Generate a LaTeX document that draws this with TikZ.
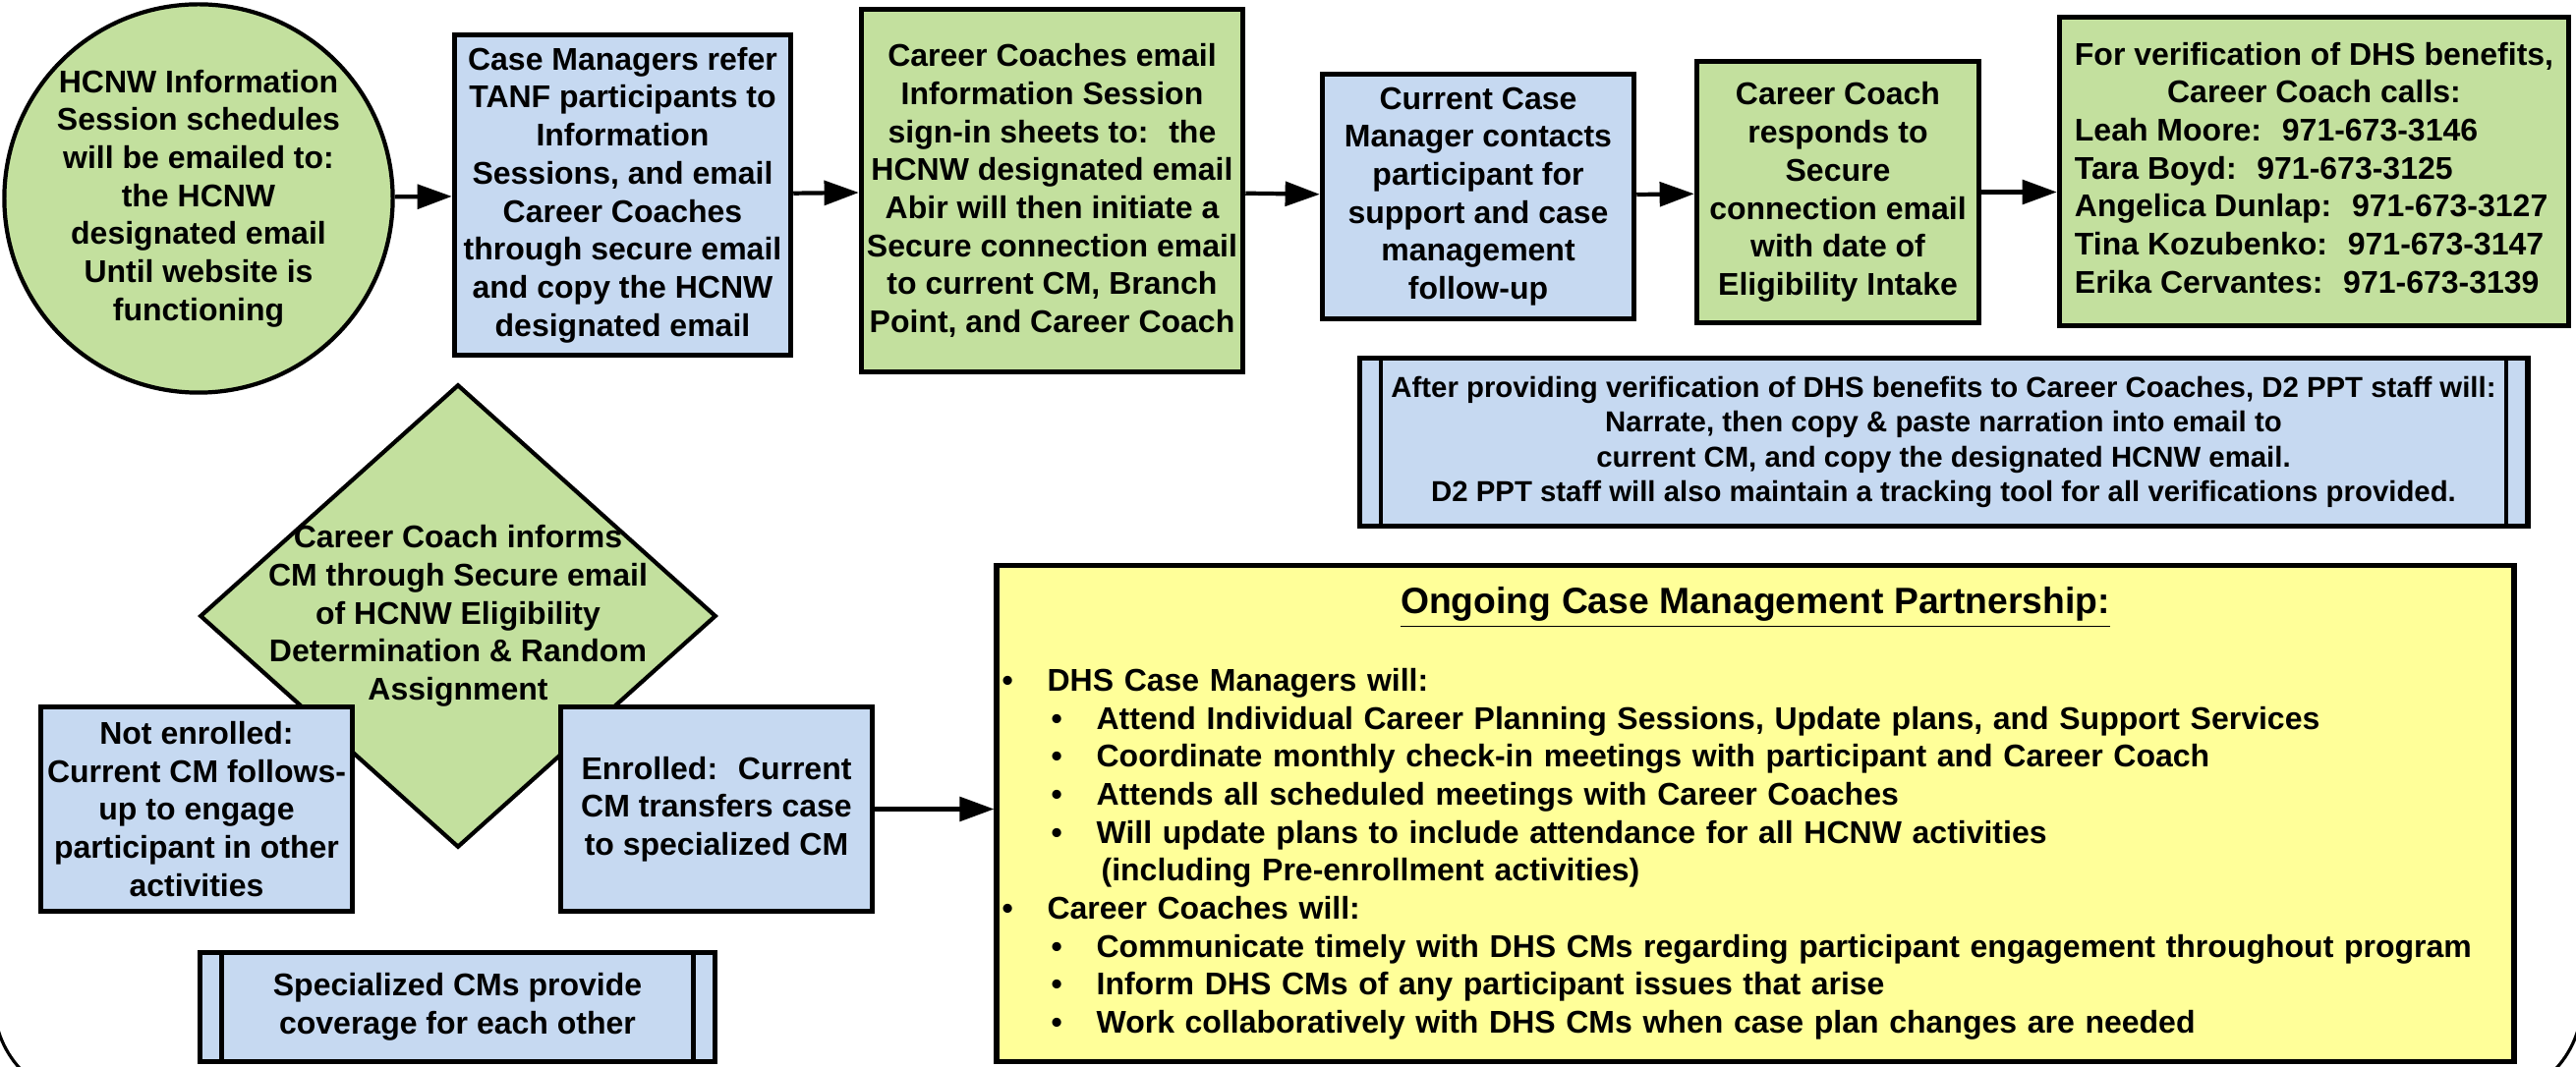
\documentclass[tikz,border=0pt]{standalone}
\usepackage{fontspec}
\setmainfont{Liberation Sans}
\usepackage{tikz}
\usetikzlibrary{shapes.geometric,arrows.meta}

\definecolor{cfgreen}{HTML}{C3E09E}
\definecolor{cfblue}{HTML}{C6D9F1}
\definecolor{cfyellow}{HTML}{FFFF99}

% bullet lines for the partnership box
\newcommand{\lvlone}[1]{\makebox[0.46cm][l]{\textbullet}#1}
\newcommand{\lvltwo}[1]{\hspace*{0.50cm}\makebox[0.46cm][l]{\textbullet}#1}

\begin{document}
\begin{tikzpicture}[x=0.01cm,y=-0.01cm,
  txt/.style={font=\bfseries\fontsize{9.1}{11}\selectfont, align=center},
  boxbase/.style={txt, draw, line width=1.5pt, inner sep=0pt},
  greenbox/.style={boxbase, rectangle, fill=cfgreen},
  bluebox/.style={boxbase, rectangle, fill=cfblue},
  startnode/.style={boxbase, circle, fill=cfgreen, line width=1.2pt},
  decision/.style={boxbase, diamond, fill=cfgreen, line width=1.2pt},
  procbox/.style={bluebox, path picture={
      \draw[line width=1.3pt]
        ([xshift=0.22cm]path picture bounding box.north west) -- ([xshift=0.22cm]path picture bounding box.south west)
        ([xshift=-0.22cm]path picture bounding box.north east) -- ([xshift=-0.22cm]path picture bounding box.south east);}},
  flow/.style={-{Triangle[length=10pt,width=7pt]}, line width=1.2pt}]
  \useasboundingbox (0,0) rectangle (2621,1086);

  % outer frame, only the lower corners fall on the page
  \begin{scope}
    \clip (0,0) rectangle (2621,1086);
    \draw[line width=0.9pt, rounded corners=1cm] (-6,-200) rectangle (2627,1120);
  \end{scope}

  % top row
  \node[startnode, minimum size=3.95cm] (info) at (202,202) {HCNW Information\\Session schedules\\will be emailed to:\\the HCNW\\designated email\\Until website is\\functioning};
  \node[bluebox, minimum width=3.42cm, minimum height=3.26cm] (refer) at (633.5,198.5) {Case Managers refer\\TANF participants to\\Information\\Sessions, and email\\Career Coaches\\through secure email\\and copy the HCNW\\designated email};
  \node[greenbox, minimum width=3.88cm, minimum height=3.69cm] (signin) at (1070.5,194) {Career Coaches email\\Information Session\\sign-in sheets to:~ the\\HCNW designated email\\Abir will then initiate a\\Secure connection email\\to current CM, Branch\\Point, and Career Coach};
  \node[bluebox, minimum width=3.17cm, minimum height=2.49cm] (contact) at (1504,200) {Current Case\\Manager contacts\\participant for\\support and case\\management\\follow-up};
  \node[greenbox, minimum width=2.87cm, minimum height=2.66cm] (respond) at (1870,195.5) {Career Coach\\responds to\\Secure\\connection email\\with date of\\Eligibility Intake};
  \node[greenbox, minimum width=5.18cm, minimum height=3.14cm] (verify) at (2354.5,174.5) {%
    \begin{tabular}{@{}l@{}}
      \multicolumn{1}{@{}c@{}}{For verification of DHS benefits,}\\
      \multicolumn{1}{@{}c@{}}{Career Coach calls:}\\
      Leah Moore:~ 971-673-3146\\
      Tara Boyd:~ 971-673-3125\\
      Angelica Dunlap:~ 971-673-3127\\
      Tina Kozubenko:~ 971-673-3147\\
      Erika Cervantes:~ 971-673-3139
    \end{tabular}};

  \node[procbox, minimum width=11.88cm, minimum height=1.71cm, font=\bfseries\fontsize{8.35}{10.05}\selectfont] (narrate) at (1977.5,450) {After providing verification of DHS benefits to Career Coaches, D2 PPT staff will:\\Narrate, then copy \& paste narration into email to\\current CM, and copy the designated HCNW email.\\D2 PPT staff will also maintain a tracking tool for all verifications provided.};

  % decision and its two outcomes
  \node[decision, minimum width=5.25cm, minimum height=4.71cm] (inform) at (466,627) {};
  \node[txt] (informtext) at (inform.center) {Career Coach informs\\CM through Secure email\\of HCNW Eligibility\\Determination \& Random\\Assignment};
  \node[bluebox, minimum width=3.17cm, minimum height=2.08cm] (notenrolled) at (200,823.5) {Not enrolled:\\Current CM follows-\\up to engage\\participant in other\\activities};
  \node[bluebox, minimum width=3.17cm, minimum height=2.08cm] (enrolled) at (729,823.5) {Enrolled:~ Current\\CM transfers case\\to specialized CM};
  \node[procbox, minimum width=5.24cm, minimum height=1.11cm] (coverage) at (465.5,1025) {Specialized CMs provide\\coverage for each other};

  \node[boxbase, rectangle, fill=cfyellow, minimum width=15.43cm, minimum height=5.05cm, text width=15.32cm, align=left] (partner) at (1786,828) {%
    \makebox[\hsize][c]{\fontsize{10.6}{12}\selectfont\underline{Ongoing Case Management Partnership:}}\\[11.4pt]
    \lvlone{DHS Case Managers will:}\\
    \lvltwo{Attend Individual Career Planning Sessions, Update plans, and Support Services}\\
    \lvltwo{Coordinate monthly check-in meetings with participant and Career Coach}\\
    \lvltwo{Attends all scheduled meetings with Career Coaches}\\
    \lvltwo{Will update plans to include attendance for all HCNW activities}\\
    \hspace*{1.01cm}(including Pre-enrollment activities)\\
    \lvlone{Career Coaches will:}\\
    \lvltwo{Communicate timely with DHS CMs regarding participant engagement throughout program}\\
    \lvltwo{Inform DHS CMs of any participant issues that arise}\\
    \lvltwo{Work collaboratively with DHS CMs when case plan changes are needed}};

  % connectors
  \draw[flow] (info) -- (refer);
  \draw[flow] (refer) -- (signin);
  \draw[flow] (signin) -- (contact);
  \draw[flow] (contact) -- (respond);
  \draw[flow] (respond) -- (respond -| verify.west);
  \draw[flow] (enrolled) -- (enrolled -| partner.west);
\end{tikzpicture}
\end{document}
